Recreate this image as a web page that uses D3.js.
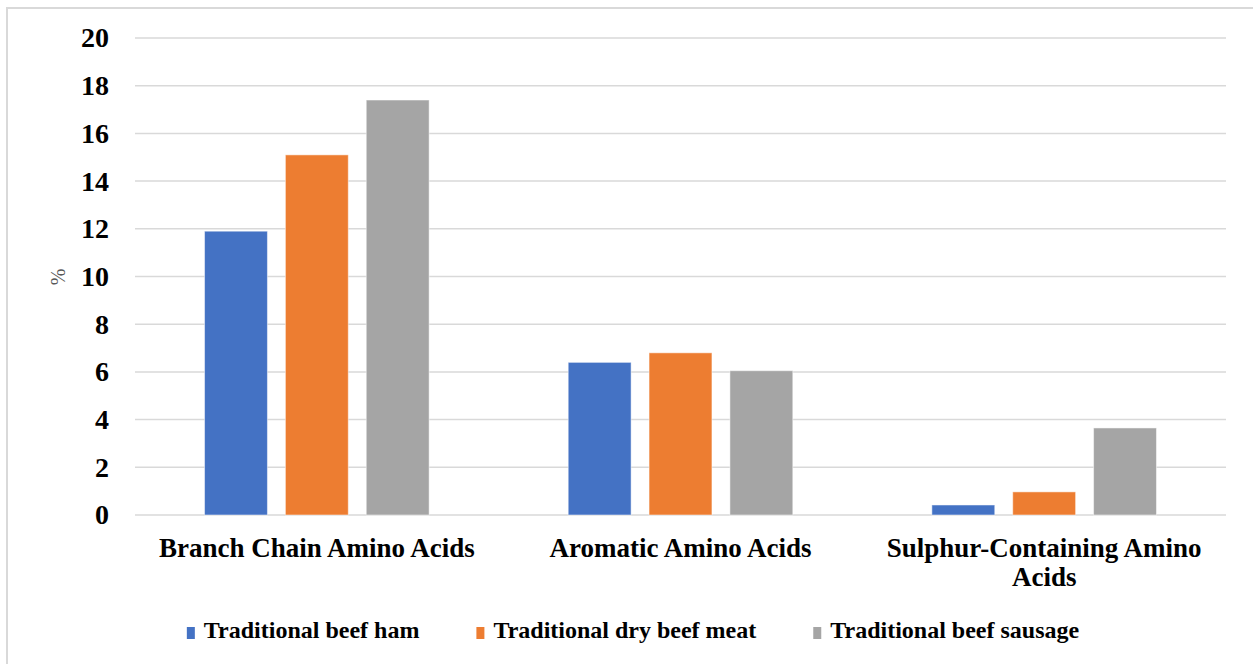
<!DOCTYPE html>
<html>
<head>
<meta charset="utf-8">
<script src="https://cdn.jsdelivr.net/npm/d3@7"></script>
<style>
  html, body { margin: 0; padding: 0; background: #ffffff; }
  svg { display: block; }
</style>
</head>
<body>
<script>
// Amino acid groups and their share (%) in each traditional beef product
const categories = [
  "Branch Chain Amino Acids",
  "Aromatic Amino Acids",
  "Sulphur-Containing Amino Acids"
];
const seriesNames = [
  "Traditional beef ham",
  "Traditional dry beef meat",
  "Traditional beef sausage"
];
const beefHam = [11.9, 6.4, 0.42];
const dryBeefMeat = [15.1, 6.8, 0.97];
const beefSausage = [17.4, 6.05, 3.65];
const yTicks = [0, 2, 4, 6, 8, 10, 12, 14, 16, 18, 20];
const colors = ["#4472c4", "#ed7d31", "#a5a5a5"];

const seriesValues = [beefHam, dryBeefMeat, beefSausage];

const W = 1253, H = 664;
const svg = d3.select("body").append("svg")
  .attr("width", W).attr("height", H);

const serif = "'Liberation Serif', 'Times New Roman', serif";

// outer frame
svg.append("rect")
  .attr("x", 7).attr("y", 8)
  .attr("width", W + 20).attr("height", H + 20)
  .attr("fill", "#ffffff")
  .attr("stroke", "#d9d9d9").attr("stroke-width", 2);

const plot = { left: 135, right: 1226, top: 38, bottom: 515 };

const y = d3.scaleLinear().domain([0, 20]).range([plot.bottom, plot.top]);
const x0 = d3.scaleBand().domain(categories).range([plot.left, plot.right]).padding(0);
const x1 = d3.scaleBand().domain(seriesNames).range([0, x0.bandwidth()])
  .paddingInner(0.222).paddingOuter(0.86);

// horizontal gridlines
svg.append("g").selectAll("line").data(yTicks).join("line")
  .attr("x1", plot.left).attr("x2", plot.right)
  .attr("y1", d => y(d)).attr("y2", d => y(d))
  .attr("stroke", "#d9d9d9").attr("stroke-width", 1.5);

// y axis tick labels
const yAxis = d3.axisLeft(y).tickValues(yTicks).tickSize(0).tickPadding(0);
const gy = svg.append("g").attr("transform", "translate(109,0)").call(yAxis);
gy.select(".domain").remove();
gy.selectAll("text")
  .attr("font-family", serif).attr("font-weight", "bold")
  .attr("font-size", 28).attr("fill", "#000000");

// y axis title
svg.append("text")
  .attr("transform", "translate(65,277) rotate(-90)")
  .attr("text-anchor", "middle")
  .attr("font-family", serif).attr("font-size", 20)
  .attr("fill", "#595959")
  .text("%");

// bars
const groups = svg.append("g").selectAll("g").data(categories).join("g")
  .attr("transform", d => `translate(${x0(d)},0)`);
groups.selectAll("rect")
  .data((c, ci) => seriesNames.map((s, si) => ({ s, si, v: seriesValues[si][ci] })))
  .join("rect")
  .attr("x", d => x1(d.s))
  .attr("width", x1.bandwidth())
  .attr("y", d => y(d.v))
  .attr("height", d => y(0) - y(d.v))
  .attr("fill", d => colors[d.si])
  .attr("stroke", "#ffffff").attr("stroke-opacity", 0.5).attr("stroke-width", 1);

// category labels (wrapped where the name is long)
const catLines = {
  "Branch Chain Amino Acids": ["Branch Chain Amino Acids"],
  "Aromatic Amino Acids": ["Aromatic Amino Acids"],
  "Sulphur-Containing Amino Acids": ["Sulphur-Containing Amino", "Acids"]
};
const xAxis = svg.append("g");
categories.forEach(c => {
  const t = xAxis.append("text")
    .attr("text-anchor", "middle")
    .attr("font-family", serif).attr("font-weight", "bold")
    .attr("font-size", 27).attr("fill", "#000000");
  catLines[c].forEach((line, i) => {
    t.append("tspan")
      .attr("x", x0(c) + x0.bandwidth() / 2)
      .attr("y", 557 + i * 29)
      .text(line);
  });
});

// legend
const legend = svg.append("g");
const items = legend.selectAll("g").data(seriesNames).join("g");
items.append("rect")
  .attr("width", 8).attr("height", 12)
  .attr("y", -11)
  .attr("fill", (d, i) => colors[i]);
items.append("text")
  .attr("x", 17).attr("y", 0)
  .attr("font-family", serif).attr("font-weight", "bold")
  .attr("font-size", 24).attr("fill", "#000000")
  .text(d => d);
let cx = 0;
const gap = 57;
const widths = [];
items.each(function () {
  widths.push(17 + d3.select(this).select("text").node().getComputedTextLength());
});
const total = d3.sum(widths) + gap * (widths.length - 1);
const start = 633 - total / 2;
items.attr("transform", (d, i) => {
  const tx = start + cx;
  cx += widths[i] + gap;
  return `translate(${tx},638)`;
});
</script>
</body>
</html>
